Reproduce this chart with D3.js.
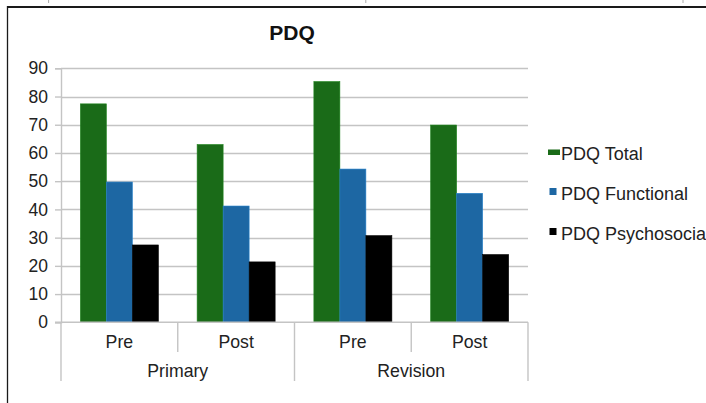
<!DOCTYPE html>
<html>
<head>
<meta charset="utf-8">
<script src="https://cdn.jsdelivr.net/npm/d3@7"></script>
<style>
  html, body { margin: 0; padding: 0; background: #fff; overflow: hidden; }
  svg { display: block; font-family: "Liberation Sans", Arial, sans-serif; }
</style>
</head>
<body>
<svg id="chart" width="706" height="403"></svg>
<script>
// PDQ scores by procedure and time point
const groups = ["Primary", "Revision"];
const phases = ["Pre", "Post"];
const seriesNames = ["PDQ Total", "PDQ Functional", "PDQ Psychosocial"];
const totalValues = [77.4, 63.0, 85.3, 69.9];
const functionalValues = [49.7, 41.2, 54.3, 45.7];
const psychosocialValues = [27.4, 21.4, 30.7, 24.0];
const yTicks = [0, 10, 20, 30, 40, 50, 60, 70, 80, 90];
const colors = ["#1a6b18", "#1d67a3", "#000000"];

const seriesValues = [totalValues, functionalValues, psychosocialValues];
const categories = [];
groups.forEach(g => phases.forEach(p => categories.push({ group: g, phase: p, key: g + "|" + p })));
const rows = categories.map((c, i) => ({
  ...c,
  values: seriesNames.map((s, j) => ({ series: s, idx: j, value: seriesValues[j][i] }))
}));

const svg = d3.select("#chart");
const plotLeft = 61, plotRight = 528, plotTop = 68.3, plotBottom = 322.3;

// page frame lines
svg.append("line").attr("x1", 7).attr("x2", 706).attr("y1", 7).attr("y2", 7)
  .attr("stroke", "#1a1a1a").attr("stroke-width", 2);
svg.append("line").attr("x1", 7.5).attr("x2", 7.5).attr("y1", 6).attr("y2", 403)
  .attr("stroke", "#1a1a1a").attr("stroke-width", 1.3);
[48.6, 365.8, 683].forEach(x => {
  svg.append("line").attr("x1", x).attr("x2", x).attr("y1", 0).attr("y2", 3)
    .attr("stroke", "#aaa").attr("stroke-width", 1);
});

const x0 = d3.scaleBand().domain(categories.map(c => c.key)).range([plotLeft, plotRight]).paddingInner(0).paddingOuter(0);
const x1 = d3.scaleBand().domain(seriesNames).range([0, x0.bandwidth()]).paddingOuter(0.745).paddingInner(0);
const y = d3.scaleLinear().domain([0, 90]).range([plotBottom, plotTop]);

// title
svg.append("text").attr("x", 292).attr("y", 40).attr("text-anchor", "middle")
  .attr("font-size", 21).attr("font-weight", "bold").attr("fill", "#111").text("PDQ");

// gridlines
svg.append("g").selectAll("line").data(yTicks.filter(t => t > 0)).join("line")
  .attr("x1", plotLeft).attr("x2", plotRight)
  .attr("y1", d => Math.round(y(d)) + 0.5).attr("y2", d => Math.round(y(d)) + 0.5)
  .attr("stroke", "#c4c4c4").attr("stroke-width", 1.4);

// y axis
const yAxis = d3.axisLeft(y).tickValues(yTicks).tickSize(6).tickPadding(7).tickFormat(d3.format("d"));
const yg = svg.append("g").attr("transform", `translate(${plotLeft},0)`).call(yAxis);
yg.select(".domain").attr("stroke", "#c4c4c4").attr("stroke-width", 1.4);
yg.selectAll(".tick line").attr("stroke", "#c4c4c4").attr("stroke-width", 1.4);
yg.selectAll(".tick text").attr("font-size", 17.5).attr("fill", "#222")
  .attr("font-family", "Liberation Sans, Arial, sans-serif");

// bars
const bars = svg.append("g").selectAll("g").data(rows).join("g")
  .attr("transform", d => `translate(${x0(d.key)},0)`);
bars.selectAll("rect").data(d => d.values).join("rect")
  .attr("x", d => x1(d.series))
  .attr("width", x1.bandwidth())
  .attr("y", d => y(d.value))
  .attr("height", d => y(0) - y(d.value))
  .attr("fill", d => colors[d.idx])
  .attr("stroke", d => d3.color(colors[d.idx]).brighter(0.6))
  .attr("stroke-width", 0.6);

// category axis: baseline, dividers and labels
const axisColor = "#c4c4c4";
svg.append("line").attr("x1", plotLeft - 6).attr("x2", plotRight).attr("y1", plotBottom).attr("y2", plotBottom)
  .attr("stroke", axisColor).attr("stroke-width", 1.4);
categories.forEach((c, i) => {
  const xl = x0(c.key);
  const isGroupStart = i % phases.length === 0;
  svg.append("line").attr("x1", xl).attr("x2", xl).attr("y1", plotBottom)
    .attr("y2", isGroupStart ? 381 : 352).attr("stroke", axisColor).attr("stroke-width", 1.4);
  svg.append("text").attr("x", xl + x0.bandwidth() / 2).attr("y", 348)
    .attr("text-anchor", "middle").attr("font-size", 17.7).attr("fill", "#222").text(c.phase);
});
svg.append("line").attr("x1", plotRight).attr("x2", plotRight).attr("y1", plotBottom).attr("y2", 381)
  .attr("stroke", axisColor).attr("stroke-width", 1.4);
groups.forEach(g => {
  const first = x0(g + "|" + phases[0]);
  const last = x0(g + "|" + phases[phases.length - 1]) + x0.bandwidth();
  svg.append("text").attr("x", (first + last) / 2).attr("y", 377)
    .attr("text-anchor", "middle").attr("font-size", 17.7).attr("fill", "#222").text(g);
});

// legend
const legendRows = [
  { y: 160, mark: [548, 149.5, 12, 5.5] },
  { y: 200, mark: [549.5, 188, 7, 7] },
  { y: 240, mark: [549.5, 228, 7, 7] }
];
const legend = svg.append("g");
seriesNames.forEach((s, i) => {
  const r = legendRows[i];
  legend.append("rect").attr("x", r.mark[0]).attr("y", r.mark[1])
    .attr("width", r.mark[2]).attr("height", r.mark[3]).attr("fill", colors[i]);
  legend.append("text").attr("x", 561).attr("y", r.y).attr("font-size", 18)
    .attr("fill", "#222").text(s);
});
</script>
</body>
</html>
